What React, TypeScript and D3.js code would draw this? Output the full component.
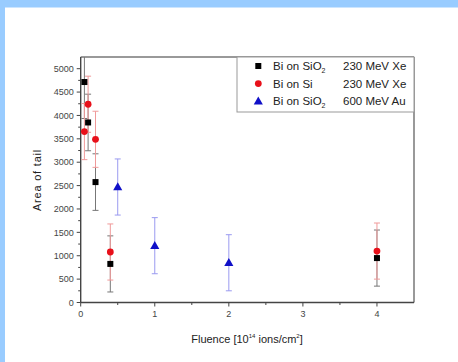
import * as React from 'react';
import * as d3 from 'd3';

// fluence in 1e14 ions/cm^2, area of tail
const siO2XeFluence = [0.05, 0.1, 0.2, 0.4, 4];
const siO2XeArea = [4715, 3850, 2575, 825, 950];
const siO2XeErr = [780, 605, 605, 600, 600];

const siXeFluence = [0.05, 0.1, 0.2, 0.4, 4];
const siXeArea = [3655, 4240, 3490, 1080, 1100];
const siXeErr = [600, 600, 600, 600, 600];

const siO2AuFluence = [0.5, 1, 2];
const siO2AuArea = [2470, 1215, 850];
const siO2AuErr = [600, 600, 600];

const xTicks = [0, 1, 2, 3, 4];
const yTicks = [0, 500, 1000, 1500, 2000, 2500, 3000, 3500, 4000, 4500, 5000];

const W = 458;
const H = 362;
const left = 80.7, right = 414, top = 57, bottom = 302.5;
const font = 'Liberation Sans, Arial, sans-serif';

const x = d3.scaleLinear().domain([0, 4.5]).range([left, right]);
const y = d3.scaleLinear().domain([0, 5250]).range([bottom, top]);

type Pt = { fx: number; v: number; e: number };
const zip = (f: number[], v: number[], e: number[]): Pt[] => f.map((d, i) => ({ fx: d, v: v[i], e: e[i] }));

const series = [
  { name: 'Bi on SiO', sub: '2', ion: '230 MeV Xe', color: '#000', bar: '#777', shape: 'square', pts: zip(siO2XeFluence, siO2XeArea, siO2XeErr) },
  { name: 'Bi on Si', sub: '', ion: '230 MeV Xe', color: '#e8101a', bar: '#f09a9a', shape: 'circle', pts: zip(siXeFluence, siXeArea, siXeErr) },
  { name: 'Bi on SiO', sub: '2', ion: '600 MeV Au', color: '#1010c8', bar: '#9a9af0', shape: 'triangle', pts: zip(siO2AuFluence, siO2AuArea, siO2AuErr) },
];

function Marker({ shape, cx, cy, color }: { shape: string; cx: number; cy: number; color: string }) {
  if (shape === 'square') return <rect x={cx - 3} y={cy - 3} width={6} height={6} fill={color} />;
  if (shape === 'circle') return <circle cx={cx} cy={cy} r={3.4} fill={color} />;
  const sym = d3.symbol().type(d3.symbolTriangle).size(36)();
  return <path d={sym || ''} transform={`translate(${cx},${cy + 0.6})`} fill={color} />;
}

export default function App() {
  const yMinor = d3.range(250, 5250, 500);
  const xMinor = d3.range(0.5, 4.5, 1);
  return (
    <div style={{ position: 'absolute', left: 0, top: 0 }}>
      <svg width={W} height={H} style={{ display: 'block' }}>
        <rect width={W} height={H} fill="#fff" />
        <rect width={W} height={7.5} fill="#99ccff" />
        <rect width={5} height={H} fill="#99ccff" />
        <defs>
          <clipPath id="plot">
            <rect x={left} y={top} width={right - left} height={bottom - top} />
          </clipPath>
        </defs>

        {/* frame */}
        <line x1={left} x2={right} y1={top} y2={top} stroke="#777" strokeWidth={1.5} />
        <line x1={right} x2={right} y1={top} y2={bottom} stroke="#777" strokeWidth={1.5} />

        {/* y axis */}
        <line x1={left} x2={left} y1={top} y2={bottom} stroke="#444" strokeWidth={1.4} />
        {yTicks.map(t => (
          <g key={'y' + t}>
            <line x1={left - 4} x2={left} y1={y(t)} y2={y(t)} stroke="#444" strokeWidth={1} />
            <text x={left - 7} y={y(t)} dy="0.35em" textAnchor="end" fontSize={9} fontFamily={font} fill="#444">{t}</text>
          </g>
        ))}
        {yMinor.map(t => (
          <line key={'ym' + t} x1={left - 2.5} x2={left} y1={y(t)} y2={y(t)} stroke="#444" strokeWidth={1} />
        ))}

        {/* x axis */}
        <line x1={left} x2={right} y1={bottom} y2={bottom} stroke="#444" strokeWidth={1.4} />
        {xTicks.map(t => (
          <g key={'x' + t}>
            <line x1={x(t)} x2={x(t)} y1={bottom} y2={bottom + 4} stroke="#444" strokeWidth={1} />
            <text x={x(t)} y={bottom + 14.5} textAnchor="middle" fontSize={9} fontFamily={font} fill="#444">{t}</text>
          </g>
        ))}
        {xMinor.map(t => (
          <line key={'xm' + t} x1={x(t)} x2={x(t)} y1={bottom} y2={bottom + 2.5} stroke="#444" strokeWidth={1} />
        ))}

        {/* axis titles */}
        <text x={247} y={343} textAnchor="middle" fontSize={11} fontFamily={font} fill="#222">
          Fluence [10<tspan fontSize={6} dy={-5}>14</tspan>
          <tspan dy={5}> ions/cm</tspan><tspan fontSize={6} dy={-5}>2</tspan><tspan dy={5}>]</tspan>
        </text>
        <text transform={`translate(41,180) rotate(-90)`} textAnchor="middle" fontSize={11} fontFamily={font} fill="#222" letterSpacing={0.8}>
          Area of tail
        </text>

        {/* error bars and points */}
        <g clipPath="url(#plot)">
          {series.map((s, si) => (
            <g key={'e' + si}>
              {s.pts.map((p, i) => (
                <g key={i} stroke={s.bar} strokeWidth={1}>
                  <line x1={x(p.fx)} x2={x(p.fx)} y1={y(p.v + p.e)} y2={y(p.v - p.e)} />
                  <line x1={x(p.fx) - 3} x2={x(p.fx) + 3} y1={y(p.v + p.e)} y2={y(p.v + p.e)} />
                  <line x1={x(p.fx) - 3} x2={x(p.fx) + 3} y1={y(p.v - p.e)} y2={y(p.v - p.e)} />
                </g>
              ))}
            </g>
          ))}
          {series.map((s, si) => (
            <g key={'m' + si}>
              {s.pts.map((p, i) => (
                <Marker key={i} shape={s.shape} cx={x(p.fx)} cy={y(p.v)} color={s.color} />
              ))}
            </g>
          ))}
        </g>

        {/* legend */}
        <rect x={237} y={top} width={right - 237} height={55} fill="#fff" stroke="#999" strokeWidth={1} />
        {series.map((s, i) => {
          const ry = 66 + i * 17.6;
          return (
            <g key={'l' + i}>
              <Marker shape={s.shape} cx={258.3} cy={ry} color={s.color} />
              <text x={273} y={ry} dy="0.35em" fontSize={11.5} fontFamily={font} fill="#222">
                {s.name}
                {s.sub && <tspan fontSize={7} dy={3}>{s.sub}</tspan>}
              </text>
              <text x={343} y={ry} dy="0.35em" fontSize={11.5} fontFamily={font} fill="#222">{s.ion}</text>
            </g>
          );
        })}
      </svg>
    </div>
  );
}
